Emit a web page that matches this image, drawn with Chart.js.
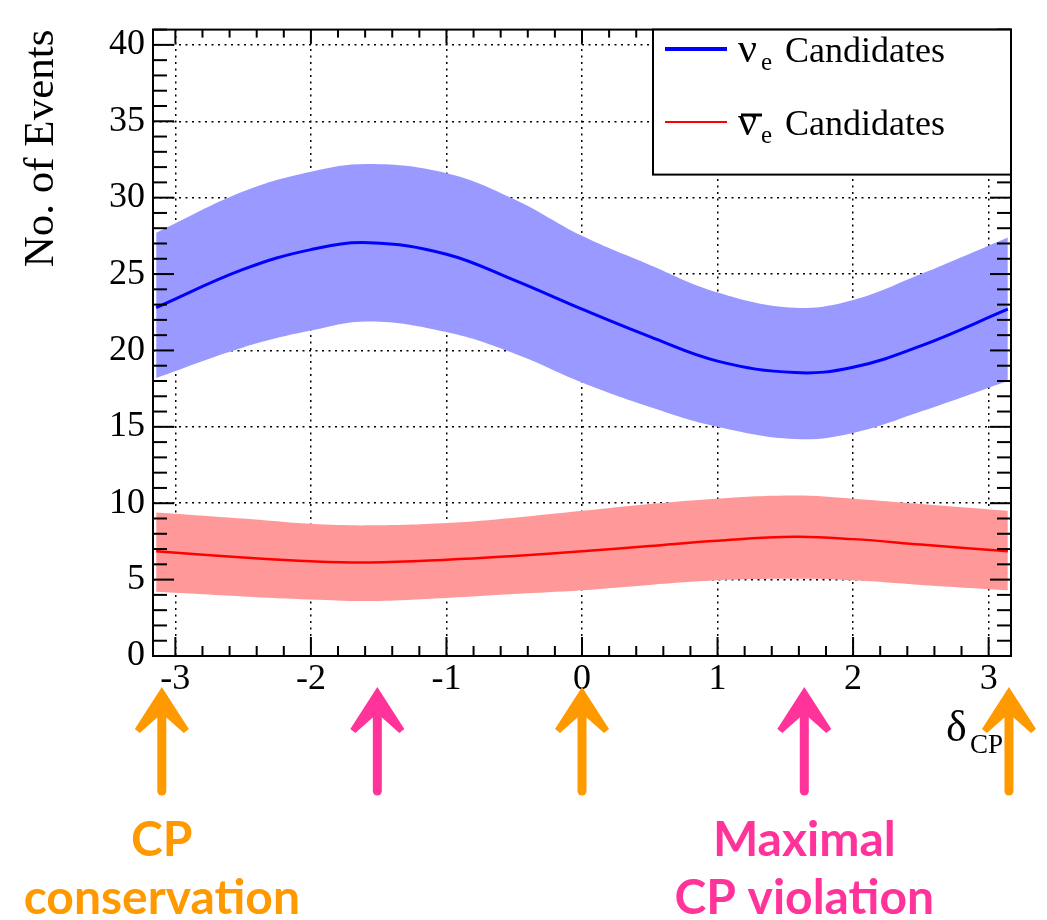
<!DOCTYPE html>
<html><head><meta charset="utf-8">
<script src="https://cdn.jsdelivr.net/npm/chart.js@4/dist/chart.umd.min.js"></script>
<style>html,body{margin:0;padding:0;background:#fff}canvas{display:block}</style>
</head><body>
<canvas id="c" width="1047" height="920"></canvas>
<script>
// ---- data ----
const deltaCP       = [-3.1416, -2.5, -2, -1.5708, -1, -0.5, 0, 0.5, 1, 1.5708, 2, 2.5, 3.1416];
const nueCentral    = [22.8, 25.3, 26.6, 27.05, 26.3, 24.6, 22.7, 20.9, 19.3, 18.55, 18.9, 20.3, 22.7];
const nueUpper      = [27.7, 30.4, 31.7, 32.2, 31.6, 29.9, 27.5, 25.6, 23.8, 22.8, 23.3, 25.0, 27.4];
const nueLower      = [18.2, 20.2, 21.3, 21.9, 21.2, 19.8, 17.9, 16.3, 15.0, 14.2, 14.6, 16.0, 18.0];
const nuebarCentral = [6.85, 6.45, 6.2, 6.12, 6.3, 6.55, 6.85, 7.2, 7.55, 7.8, 7.65, 7.3, 6.85];
const nuebarUpper   = [9.4, 9.0, 8.65, 8.55, 8.7, 9.05, 9.5, 9.95, 10.3, 10.5, 10.3, 9.95, 9.5];
const nuebarLower   = [4.2, 3.9, 3.7, 3.6, 3.8, 4.05, 4.3, 4.65, 4.95, 5.05, 4.95, 4.65, 4.3];
const xTickLabels   = [-3, -2, -1, 0, 1, 2, 3];
const yTickLabels   = [0, 5, 10, 15, 20, 25, 30, 35, 40];
const arrowPositions = [-3.10, -1.51, 0, 1.64, 3.15];
const arrowKinds     = ['cons', 'max', 'cons', 'max', 'cons'];
const legendLabels   = ['Candidates', 'Candidates'];
const yTitle = 'No. of Events';

const ORANGE = '#FF9900', PINK = '#FF3399';
const SERIF = "'Liberation Serif','Times New Roman',serif";

const pts = arr => arr.map((v, i) => ({x: deltaCP[i], y: v}));
const lineDs = (data, color, w) => ({data: pts(data), borderColor: color, borderWidth: w,
  pointRadius: 0, fill: false, tension: 0.4});
const bandDs = (data, color, fill) => ({data: pts(data), borderColor: 'rgba(0,0,0,0)', borderWidth: 0,
  backgroundColor: color, pointRadius: 0, fill: fill, tension: 0.4});

const datasets = [
  lineDs(nueCentral, '#0000FF', 3),
  lineDs(nuebarCentral, '#FF0000', 2.5),
  bandDs(nueUpper, '#9999FF', '+1'),
  bandDs(nueLower, '#9999FF', false),
  bandDs(nuebarUpper, '#FF9999', '+1'),
  bandDs(nuebarLower, '#FF9999', false)
];

function seg(ctx, x1, y1, x2, y2) { ctx.beginPath(); ctx.moveTo(x1, y1); ctx.lineTo(x2, y2); ctx.stroke(); }

const frameTicks = {
  id: 'frameTicks',
  afterDatasetsDraw(chart) {
    const {ctx, chartArea: a, scales: {x, y}} = chart;
    ctx.save();
    ctx.strokeStyle = '#000'; ctx.lineWidth = 2;
    for (let k = Math.ceil(x.min * 5 - 1e-9); k <= Math.floor(x.max * 5 + 1e-9); k++) {
      const px = x.getPixelForValue(k / 5);
      const major = k % 5 === 0;
      seg(ctx, px, a.bottom, px, a.bottom - (major ? 19 : 10));
      seg(ctx, px, a.top, px, a.top + (major ? 14 : 8));
    }
    for (let v = Math.ceil(y.min); v <= Math.floor(y.max); v++) {
      const py = y.getPixelForValue(v);
      const major = v % 5 === 0;
      const L = major ? 21 : 14;
      seg(ctx, a.left, py, a.left + L, py);
      seg(ctx, a.right, py, a.right - L, py);
    }
    ctx.strokeRect(a.left, a.top, a.right - a.left, a.bottom - a.top);
    ctx.restore();
  },
  afterDraw(chart) {
    const {ctx, chartArea: a, scales: {x}} = chart;
    ctx.save();
    // ---- legend ----
    const bx = 653, by = a.top, bw = a.right - 653, bh = 145;
    ctx.fillStyle = '#fff'; ctx.fillRect(bx, by, bw, bh);
    ctx.strokeStyle = '#000'; ctx.lineWidth = 2; ctx.strokeRect(bx, by, bw, bh);
    const rows = [{y: 49, color: '#0000FF', w: 4, bar: false}, {y: 122, color: '#FF0000', w: 2, bar: true}];
    rows.forEach((r, i) => {
      ctx.strokeStyle = r.color; ctx.lineWidth = r.w;
      seg(ctx, 665, r.y, 727, r.y);
      const base = r.y + 13;
      ctx.fillStyle = '#000'; ctx.textBaseline = 'alphabetic'; ctx.textAlign = 'left';
      ctx.font = '42px ' + SERIF; ctx.fillText('ν', 738, base);
      ctx.font = '25px ' + SERIF; ctx.fillText('e', 761, base + 8);
      ctx.font = '36px ' + SERIF; ctx.fillText(legendLabels[i], 785, base);
      if (r.bar) { ctx.strokeStyle = '#000'; ctx.lineWidth = 3; seg(ctx, 741, r.y - 7, 762, r.y - 7); }
    });
    // ---- x axis label delta_CP ----
    ctx.fillStyle = '#000'; ctx.textAlign = 'left'; ctx.textBaseline = 'alphabetic';
    ctx.font = '44px ' + SERIF; ctx.fillText('δ', 946, 741);
    ctx.font = '27px ' + SERIF; ctx.fillText('CP', 970, 753);
    // ---- arrows ----
    arrowPositions.forEach((v, i) => {
      const cx = x.getPixelForValue(v);
      const col = arrowKinds[i] === 'cons' ? ORANGE : PINK;
      ctx.strokeStyle = col; ctx.fillStyle = col; ctx.lineCap = 'round';
      ctx.lineWidth = 9; seg(ctx, cx, 705, cx, 791);
      const t = 687;
      ctx.beginPath();
      ctx.moveTo(cx, t);
      ctx.lineTo(cx + 27, t + 42);
      ctx.lineTo(cx + 22, t + 46);
      ctx.lineTo(cx + 4, t + 30);
      ctx.lineTo(cx - 4, t + 30);
      ctx.lineTo(cx - 22, t + 46);
      ctx.lineTo(cx - 27, t + 42);
      ctx.closePath(); ctx.fill();
    });
    // ---- annotation text ----
    ctx.textAlign = 'center'; ctx.textBaseline = 'alphabetic';
    ctx.font = "bold 48px Lato, 'Open Sans', sans-serif";
    const xc = x.getPixelForValue(arrowPositions[0]);
    const xm = x.getPixelForValue(arrowPositions[3]);
    ctx.fillStyle = ORANGE;
    ctx.fillText('CP', xc, 856);
    ctx.fillText('conservation', xc, 914);
    ctx.fillStyle = PINK;
    ctx.fillText('Maximal', xm, 856);
    ctx.fillText('CP violation', xm, 914);
    ctx.restore();
  }
};

new Chart(document.getElementById('c'), {
  type: 'line',
  data: {datasets},
  options: {
    responsive: false, animation: false, devicePixelRatio: 1,
    layout: {padding: {top: 14, right: 36, left: 0, bottom: 0}},
    plugins: {legend: {display: false}, tooltip: {enabled: false}},
    scales: {
      x: {
        type: 'linear', min: -3.165, max: 3.165,
        afterBuildTicks: s => { s.ticks = xTickLabels.map(v => ({value: v})); },
        afterFit: s => { s.height = 264; },
        grid: {color: '#000', lineWidth: 1.5, drawTicks: false},
        border: {display: false, dash: [2, 4.5]},
        ticks: {color: '#000', font: {family: SERIF, size: 36}, padding: 2, maxRotation: 0, autoSkip: false,
          callback: v => String(v)}
      },
      y: {
        type: 'linear', min: 0, max: 41,
        afterBuildTicks: s => { s.ticks = yTickLabels.map(v => ({value: v})); },
        afterFit: s => { s.width = 153; },
        grid: {color: '#000', lineWidth: 1.5, drawTicks: false},
        border: {display: false, dash: [2, 4.5]},
        ticks: {color: '#000', font: {family: SERIF, size: 36}, padding: 8, autoSkip: false,
          callback: v => String(v)},
        title: {display: true, text: yTitle, align: 'end', color: '#000',
          font: {family: SERIF, size: 43}, padding: {top: 16, bottom: 0}}
      }
    }
  },
  plugins: [frameTicks]
});
</script>
</body></html>
